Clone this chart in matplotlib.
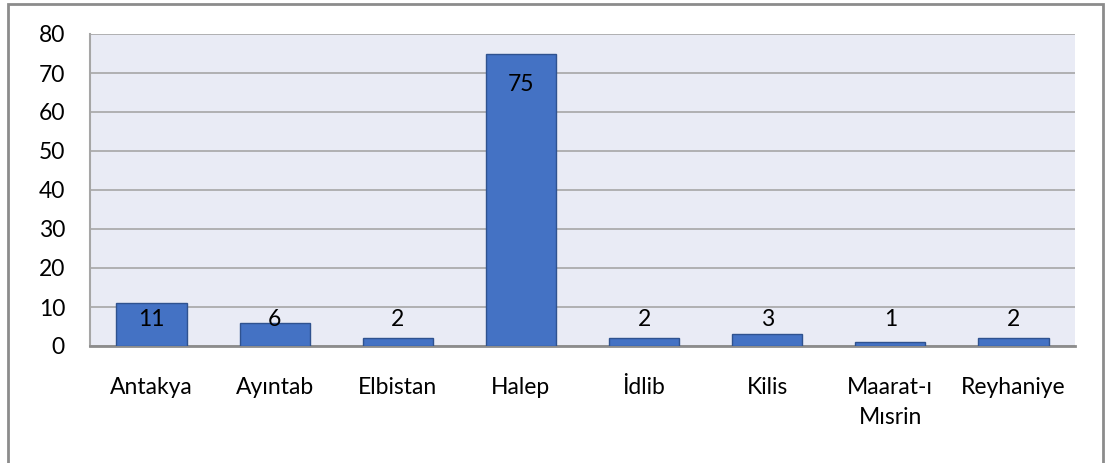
import numpy as np
import matplotlib.pyplot as plt
from matplotlib.patches import Rectangle

# Data
cities = ["Antakya", "Ayıntab", "Elbistan", "Halep", "İdlib", "Kilis", "Maarat-ı\nMısrin", "Reyhaniye"]
counts = [11, 6, 2, 75, 2, 3, 1, 2]
yticks = [0, 10, 20, 30, 40, 50, 60, 70, 80]

# Style
bar_color  = '#4472C4'
edge_color = '#2F528F'
bg_color   = '#E9EBF5'
grid_color = '#A6A6A6'
font_size  = 16.5

plt.rcParams['font.family'] = ['Lato', 'DejaVu Sans']

fig = plt.figure(figsize=(11.05, 4.63), dpi=100)
ax = fig.add_axes([90/1105, 1 - 346/463, (1075-90)/1105, (346-34)/463])
ax.set_facecolor(bg_color)

x = np.arange(len(cities))
ax.bar(x, counts, width=0.57, color=bar_color, edgecolor=edge_color, linewidth=1.0, zorder=3)

# value labels, inside end of the bar (small bars pushed up)
for xi, v in zip(x, counts):
    ax.text(xi, max(v - 8.0, 6.9), str(v), ha='center', va='center',
            fontsize=font_size, color='black', zorder=4)

ax.set_xlim(-0.5, len(cities) - 0.5)
ax.set_ylim(0, 80)
ax.set_yticks(yticks)
ax.set_xticks(x)
ax.set_xticklabels(cities, fontsize=font_size, va='top', linespacing=1.55)
ax.tick_params(axis='y', length=0, pad=18, labelsize=font_size)
ax.tick_params(axis='x', length=0, pad=22)

ax.yaxis.grid(True, color=grid_color, linewidth=1.2, zorder=0)
ax.set_axisbelow(True)
for s in ['top', 'right']:
    ax.spines[s].set_visible(False)
ax.spines['left'].set_color(grid_color)
ax.spines['left'].set_linewidth(1.5)
ax.spines['bottom'].set_color('#8C8C8C')
ax.spines['bottom'].set_linewidth(2)

# outer frame of the chart
fig.patches.append(Rectangle((8/1105, -0.05), (1103-8)/1105, 1.05 - 4/463,
                             transform=fig.transFigure, fill=False,
                             edgecolor='#8C8C8C', linewidth=2))

fig.savefig('out.png', dpi=100)
